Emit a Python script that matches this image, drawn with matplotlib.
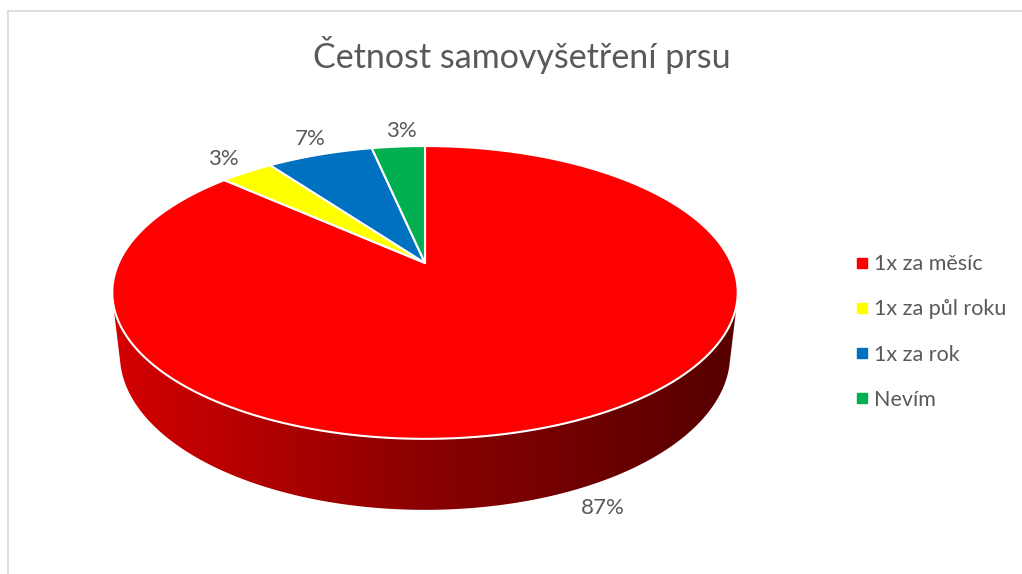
import numpy as np
import matplotlib.pyplot as plt
from matplotlib.patches import Polygon
from matplotlib.lines import Line2D
from matplotlib.colors import LinearSegmentedColormap

plt.rcParams['font.family'] = ['Lato', 'DejaVu Sans']

# data
title = "Četnost samovyšetření prsu"
categories = ["1x za měsíc", "1x za půl roku", "1x za rok", "Nevím"]
counts = [26, 1, 2, 1]
colors = ["#FF0000", "#FFFF00", "#0070C0", "#00B050"]

# 3d view settings (pixel space)
cx, cy = 425, 263
tilt = np.radians(27.3)
dist = 4.42
focal = 1354
thick = 0.23
txt_col = "#595959"


def proj(X, Y, Z):
    depth = dist + Y * np.cos(tilt) - Z * np.sin(tilt)
    sx = cx + focal * X / depth
    sy = cy - focal * (Y * np.sin(tilt) + Z * np.cos(tilt)) / depth
    return sx, sy


fig = plt.figure(figsize=(10.22, 5.74), dpi=100)
ax = fig.add_axes([0, 0, 1, 1])
ax.set_xlim(0, 1022)
ax.set_ylim(574, 0)
ax.axis('off')

# chart border (only top and left visible)
ax.plot([8, 1022], [11, 11], color="#D9D9D9", lw=1.2)
ax.plot([8, 8], [11, 574], color="#D9D9D9", lw=1.2)

# slice angles: start at 12 o'clock, clockwise
fracs = np.array(counts) / sum(counts)
starts = np.pi / 2 - 2 * np.pi * np.concatenate([[0], np.cumsum(fracs)[:-1]])
ends = starts - 2 * np.pi * fracs

# side wall (visible front part of the cylinder)
lim = -1 / (dist * np.cos(tilt))
th = np.linspace(np.pi, 2 * np.pi, 600)
th = th[np.sin(th) < lim]
tx, ty = proj(np.cos(th), np.sin(th), 0 * th)
bx, by = proj(np.cos(th), np.sin(th), 0 * th - thick)
side = np.column_stack([np.concatenate([tx, bx[::-1]]), np.concatenate([ty, by[::-1]])])
side_patch = Polygon(side, closed=True, facecolor='none', edgecolor='none')
ax.add_patch(side_patch)
grad_cmap = LinearSegmentedColormap.from_list(
    "side", ["#D40000", "#8A0000", "#560000"])
x0, x1 = side[:, 0].min(), side[:, 0].max()
y0, y1 = side[:, 1].min(), side[:, 1].max()
grad = np.linspace(0, 1, 300).reshape(1, -1)
im = ax.imshow(grad, cmap=grad_cmap, extent=[x0, x1, y1, y0], aspect='auto', zorder=2)
im.set_clip_path(side_patch)
ax.set_xlim(0, 1022)
ax.set_ylim(574, 0)

# top face slices
for a0, a1, col in zip(starts, ends, colors):
    t = np.linspace(a0, a1, 200)
    px, py = proj(np.cos(t), np.sin(t), 0 * t)
    ax0, ay0 = proj(0, 0, 0)
    pts = np.column_stack([np.concatenate([[ax0], px]), np.concatenate([[ay0], py])])
    ax.add_patch(Polygon(pts, closed=True, facecolor=col, edgecolor='white',
                         lw=1.5, joinstyle='round', zorder=3))

# percent labels
for a0, a1, f in zip(starts, ends, fracs):
    mid = (a0 + a1) / 2
    z = -0.8 * thick if np.sin(mid) < 0 else 0
    rf = 1.15 if np.sin(mid) < 0 else 1.17
    lx, ly = proj(rf * np.cos(mid), rf * np.sin(mid), z)
    if np.sin(mid) > 0:
        lx += 8 * (1 - abs(np.cos(mid)))
    ax.text(lx, ly, f"{f * 100:.0f}%", ha='center', va='center',
            fontsize=16, color=txt_col, zorder=5)

ax.text(522, 55, title, ha='center', va='center', fontsize=24.5, color=txt_col)

handles = [Line2D([], [], marker='s', linestyle='none', markersize=6.5,
                  markerfacecolor=c, markeredgecolor=c) for c in colors]
fig.legend(handles, categories, loc='center left',
           bbox_to_anchor=(843 / 1022, 1 - 332 / 574), frameon=False,
           fontsize=15.5, labelcolor=txt_col, handlelength=0.8,
           handletextpad=0.15, labelspacing=1.17, borderpad=0)

fig.savefig("out.png", dpi=100)
